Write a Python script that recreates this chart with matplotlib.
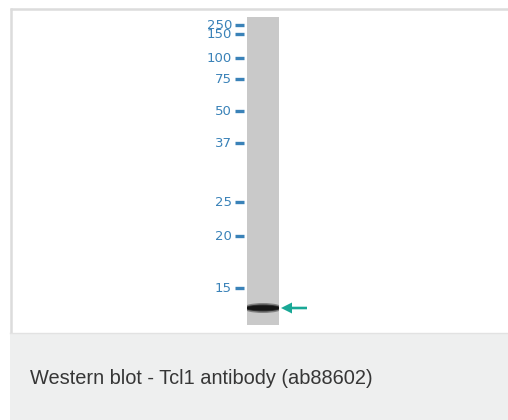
import matplotlib.pyplot as plt
from matplotlib.patches import Rectangle, Ellipse, FancyArrow

# marker ladder (kDa) and where each sits on the blot (pixel rows)
markers = ['250', '150', '100', '75', '50', '37', '25', '20', '15']
marker_y = [25, 34, 58, 79, 111, 143, 202, 236, 288]
band_y = 308
caption = 'Western blot - Tcl1 antibody (ab88602)'

W, H = 508, 420
fig = plt.figure(figsize=(W / 100, H / 100), dpi=100)
ax = fig.add_axes([0, 0, 1, 1])
ax.set_xlim(0, W)
ax.set_ylim(H, 0)
ax.axis('off')

# frame + caption panel
ax.add_patch(Rectangle((10, 333), W - 10, H - 333, facecolor='#eeefef', edgecolor='none'))
ax.plot([10, W], [8.5, 8.5], color='#dcdcdc', lw=1.8, solid_capstyle='butt')
ax.plot([10.5, 10.5], [8, 333], color='#dcdcdc', lw=1.8, solid_capstyle='butt')
ax.plot([10, W], [333, 333], color='#e2e2e2', lw=1.0)
ax.text(30, 379, caption, fontsize=14.4, family='Liberation Sans', color='#363636',
        va='center', ha='left')

# lane
lane = Rectangle((247, 17), 32, 308, facecolor='#c9c9c9', edgecolor='none')
ax.add_patch(lane)

# band
for w, h, a in [(40, 10, 0.4), (36, 7, 0.7), (34, 5, 0.95)]:
    e = Ellipse((263, band_y), w, h, facecolor='#151515', edgecolor='none', alpha=a)
    ax.add_patch(e)
    e.set_clip_path(lane)

# ladder labels and ticks
for lab, y in zip(markers, marker_y):
    ax.text(232, y + 0.5, lab, fontsize=9.5, color='#3a82b8', ha='right', va='center',
            family='DejaVu Sans')
    ax.plot([235, 244], [y, y], color='#3a82b8', lw=2.4, solid_capstyle='butt')

# arrow pointing at the band
ax.add_patch(FancyArrow(307, band_y, -26, 0, width=2.6, head_width=11, head_length=11,
                        length_includes_head=True, color='#19a896', lw=0))

fig.savefig('out.png', dpi=100)
